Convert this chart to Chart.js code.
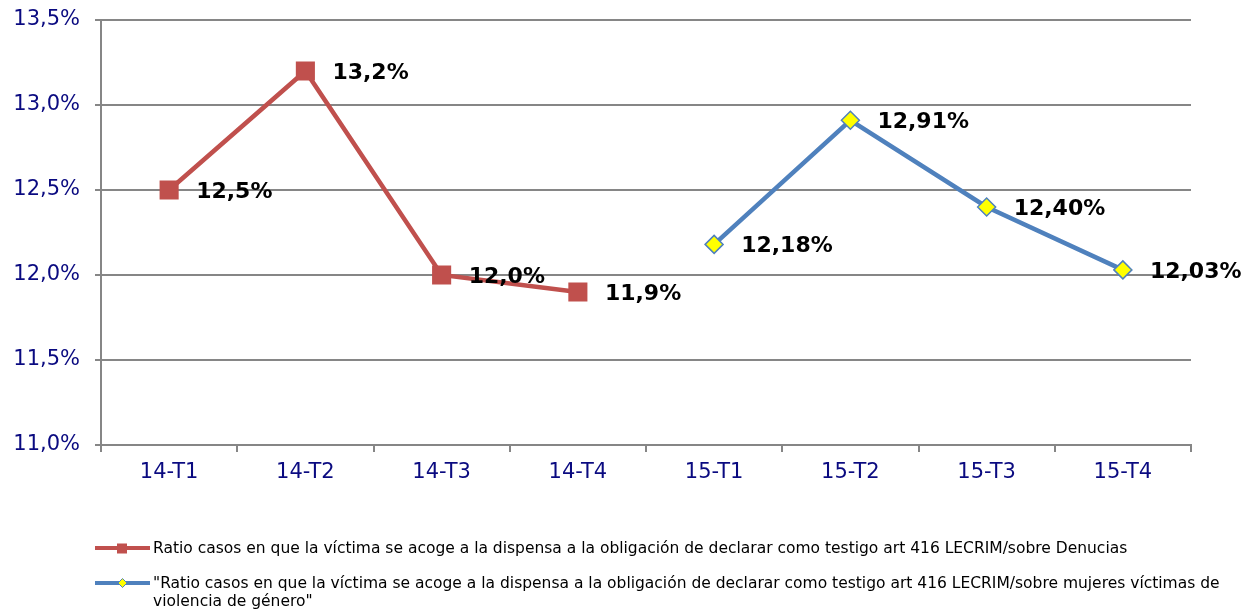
<!DOCTYPE html>
<html>
<head>
<meta charset="utf-8">
<script src="https://cdn.jsdelivr.net/npm/chart.js@4/dist/chart.umd.min.js"></script>
<style>
  html, body { margin: 0; padding: 0; background: #fff; }
  #wrap { position: relative; width: 1257px; height: 612px; font-family: "DejaVu Sans", Verdana, sans-serif; }
  canvas { position: absolute; left: 0; top: 0; }
  .leg { position: absolute; left: 95px; font-size: 15.5px; color: #000; display: flex; align-items: flex-start; }
  .leg .sw { position: relative; width: 55px; height: 18px; flex: none; }
  .leg .txt { margin-left: 3px; line-height: 18px; white-space: nowrap; }
</style>
</head>
<body>
<div id="wrap">
  <canvas id="c" width="1257" height="612"></canvas>
  <div class="leg" style="top:539px">
    <div class="sw"><svg width="55" height="18"><line x1="0" y1="9" x2="55" y2="9" stroke="#C0504D" stroke-width="4"/><rect x="22" y="4.5" width="10" height="10" fill="#C0504D"/></svg></div>
    <div class="txt" id="l1"></div>
  </div>
  <div class="leg" style="top:574px">
    <div class="sw"><svg width="55" height="18"><line x1="0" y1="9" x2="55" y2="9" stroke="#4F81BD" stroke-width="4"/><polygon points="27.5,4.5 32,9 27.5,13.5 23,9" fill="#FFFF00" stroke="#4F81BD" stroke-width="1"/></svg></div>
    <div class="txt" id="l2"></div>
  </div>
</div>
<script>
const categories = ['14-T1','14-T2','14-T3','14-T4','15-T1','15-T2','15-T3','15-T4'];
const seriesDenuncias = [12.5, 13.2, 12.0, 11.9, null, null, null, null];
const seriesMujeres = [null, null, null, null, 12.18, 12.91, 12.40, 12.03];
const labelDenuncias = 'Ratio casos en que la víctima se acoge a la dispensa a la obligación de declarar como testigo art 416 LECRIM/sobre Denucias';
const labelMujeresLines = ['"Ratio casos en que la víctima se acoge a la dispensa a la obligación de declarar como testigo art 416 LECRIM/sobre mujeres víctimas de', 'violencia de género"'];
const yMin = 11.0, yMax = 13.5, yStep = 0.5;

document.getElementById('l1').textContent = labelDenuncias;
labelMujeresLines.forEach((t, i) => {
  if (i) document.getElementById('l2').appendChild(document.createElement('br'));
  document.getElementById('l2').appendChild(document.createTextNode(t));
});

const FONT = '"DejaVu Sans", Verdana, sans-serif';
const fmt = (v, d) => v.toFixed(d).replace('.', ',') + '%';

const dataLabels = {
  id: 'dataLabels',
  afterDatasetsDraw(chart) {
    const ctx = chart.ctx;
    ctx.save();
    ctx.font = 'bold 22px ' + FONT;
    ctx.fillStyle = '#000';
    ctx.textAlign = 'left';
    ctx.textBaseline = 'middle';
    chart.data.datasets.forEach((ds, di) => {
      const meta = chart.getDatasetMeta(di);
      meta.data.forEach((pt, i) => {
        const v = ds.data[i];
        if (v == null) return;
        ctx.fillText(fmt(v, ds.decimals), pt.x + 27, pt.y + 2);
      });
    });
    ctx.restore();
  }
};

new Chart(document.getElementById('c'), {
  type: 'line',
  data: {
    labels: categories,
    datasets: [
      {
        label: labelDenuncias,
        data: seriesDenuncias,
        decimals: 1,
        borderColor: '#C0504D',
        backgroundColor: '#C0504D',
        borderWidth: 4.5,
        pointStyle: 'rect',
        pointRadius: 13.5,
        pointBorderWidth: 0,
        pointBackgroundColor: '#C0504D',
        spanGaps: false,
        tension: 0
      },
      {
        label: labelMujeresLines.join(' '),
        data: seriesMujeres,
        decimals: 2,
        borderColor: '#4F81BD',
        backgroundColor: '#FFFF00',
        borderWidth: 4.5,
        pointStyle: 'rectRot',
        pointRadius: 9,
        pointBorderWidth: 1.5,
        pointBorderColor: '#4F81BD',
        pointBackgroundColor: '#FFFF00',
        spanGaps: false,
        tension: 0
      }
    ]
  },
  options: {
    responsive: false,
    animation: false,
    events: [],
    layout: { padding: { left: 0, right: 66, top: 20, bottom: 117 } },
    plugins: { legend: { display: false }, tooltip: { enabled: false } },
    scales: {
      x: {
        type: 'category',
        offset: true,
        grid: { offset: true, drawOnChartArea: false, drawTicks: true, tickLength: 7, color: '#868686', lineWidth: 2 },
        border: { display: true, color: '#868686', width: 2 },
        ticks: { color: '#0A0A80', font: { family: FONT, size: 21 }, padding: 8, maxRotation: 0 },
        afterFit(s) { s.height = 50; s.paddingLeft = 0; s.paddingRight = 0; }
      },
      y: {
        min: yMin, max: yMax,
        grid: { drawOnChartArea: true, drawTicks: true, tickLength: 6, color: '#868686', lineWidth: 2 },
        border: { display: true, color: '#868686', width: 2 },
        ticks: {
          stepSize: yStep,
          color: '#0A0A80',
          font: { family: FONT, size: 21 },
          padding: 15,
          callback: v => fmt(v, 1)
        },
        afterFit(s) { s.width = 101; s.paddingTop = 0; s.paddingBottom = 0; }
      }
    }
  },
  plugins: [dataLabels]
});
</script>
</body>
</html>
